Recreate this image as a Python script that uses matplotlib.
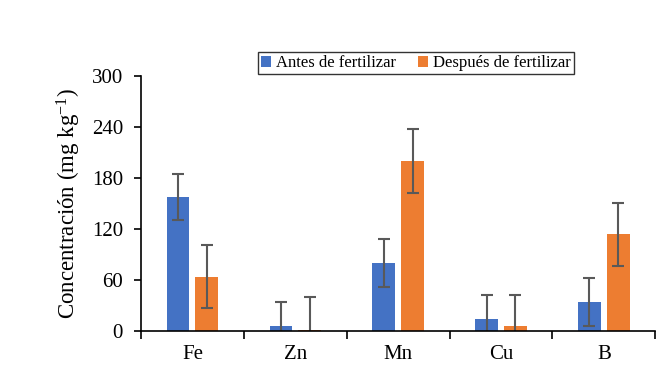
import matplotlib.pyplot as plt
import numpy as np

plt.rcParams['font.family'] = ['Liberation Serif', 'DejaVu Serif']
plt.rcParams['mathtext.fontset'] = 'custom'
plt.rcParams['mathtext.rm'] = 'Liberation Serif'
plt.rcParams['mathtext.it'] = 'Liberation Serif:italic'

elements = ['Fe', 'Zn', 'Mn', 'Cu', 'B']
antes = [158, 5.5, 80, 14, 34]
antes_err = [27, 29, 28, 28, 28]
despues = [64, 1.5, 200, 5.5, 114]
despues_err = [37, 38, 38, 37, 37]

blue = '#4472C4'
orange = '#ED7D31'
err_kw = dict(ecolor='#595959', elinewidth=1.5, capsize=4, capthick=1.5)

fig = plt.figure(figsize=(6.68, 3.69), dpi=100)
ax = fig.add_axes([0.211, 0.103, 0.77, 0.691])

x = np.arange(len(elements))
w = 0.22
off = 0.14
ax.bar(x - off, antes, w, yerr=antes_err, color=blue, label='Antes de fertilizar',
       error_kw=err_kw, zorder=2)
ax.bar(x + off, despues, w, yerr=despues_err, color=orange, label='Después de fertilizar',
       error_kw=err_kw, zorder=2)

ax.set_xlim(-0.5, len(elements) - 0.5)
ax.set_ylim(0, 300)
ax.set_yticks(range(0, 301, 60))
ax.set_xticks(x)
ax.set_xticklabels(elements, fontsize=15)
ax.set_xticks(np.arange(-0.5, len(elements)), minor=True)
ax.tick_params(axis='x', which='major', length=0, pad=10)
ax.tick_params(axis='x', which='minor', length=6, width=1.2, direction='out')
ax.tick_params(axis='y', labelsize=15, length=5, width=1.2, direction='out', pad=8)
ax.spines['top'].set_visible(False)
ax.spines['right'].set_visible(False)
ax.spines['left'].set_linewidth(1.2)
ax.spines['bottom'].set_linewidth(1.2)
ax.set_ylabel(r'Concentración (mg kg$^{\mathrm{-1}}$)', fontsize=16.5, labelpad=6)

leg = fig.legend(loc='center', bbox_to_anchor=(0.623, 0.829), ncol=2, fontsize=12,
                 frameon=True, fancybox=False, edgecolor='black', handlelength=0.6,
                 handleheight=0.6, handletextpad=0.3, columnspacing=1.3,
                 borderpad=0.2, borderaxespad=0)
leg.get_frame().set_linewidth(1.0)

fig.savefig('out.png', dpi=100)
